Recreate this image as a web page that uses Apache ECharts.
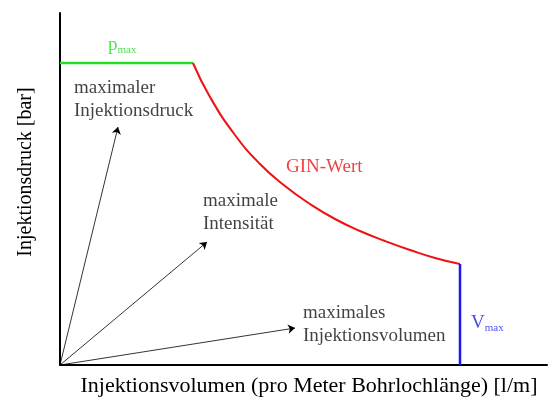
<!DOCTYPE html>
<html>
<head>
<meta charset="utf-8">
<script src="https://cdn.jsdelivr.net/npm/echarts@6/dist/echarts.min.js"></script>
<style>html,body{margin:0;padding:0;background:#fff}#c{width:549px;height:401px}</style>
</head>
<body>
<div id="c"></div>
<script>
// Volume axis (arbitrary units) and pressure axis (arbitrary units)
const pmaxLine = [[0, 302], [133, 302]];
const ginCurve = [[133, 302], [150, 268], [175, 230], [200, 201], [225, 179], [250, 161],
                  [275, 146], [300, 134], [325, 124], [350, 115], [375, 107], [400, 101]];
const vmaxLine = [[400, 101], [400, 0]];
const arrowTips = [[58, 238], [147, 123], [235, 37]];
const xTitle = 'Injektionsvolumen (pro Meter Bohrlochlänge) [l/m]';
const yTitle = 'Injektionsdruck [bar]';

const serif = '"Liberation Serif", "Times New Roman", serif';
const chart = echarts.init(document.getElementById('c'), null, {renderer: 'canvas'});

function note(x, y, text, color, rich) {
  return {value: [x, y], label: {show: true, position: 'right', distance: 0, formatter: text,
    color: color, fontFamily: serif, fontSize: 19, lineHeight: 23, rich: rich || {}}};
}
const subRich = (c) => ({
  b: {fontFamily: serif, fontSize: 19, color: c},
  s: {fontFamily: serif, fontSize: 11, color: c, padding: [10, 0, 0, 0]}
});

chart.setOption({
  animation: false,
  grid: {left: 60, right: 2, top: 13, bottom: 36},
  xAxis: {type: 'value', min: 0, max: 487,
    axisLine: {show: true, lineStyle: {color: '#000', width: 2}}, axisTick: {show: false},
    axisLabel: {show: false}, splitLine: {show: false}},
  yAxis: {type: 'value', min: 0, max: 352,
    axisLine: {show: true, lineStyle: {color: '#000', width: 2}}, axisTick: {show: false},
    axisLabel: {show: false}, splitLine: {show: false}},
  graphic: [
    {type: 'text', x: 309, y: 386,
      style: {text: xTitle, fontFamily: serif, fontSize: 22, fill: '#000', align: 'center', verticalAlign: 'middle'}},
    {type: 'text', x: 26, y: 172, rotation: Math.PI / 2,
      style: {text: yTitle, fontFamily: serif, fontSize: 20, fill: '#000', align: 'center', verticalAlign: 'middle'}}
  ],
  series: [
    {type: 'line', data: pmaxLine, symbol: 'none', lineStyle: {color: '#22dd22', width: 2.5}},
    {type: 'line', data: ginCurve, symbol: 'none', smooth: true, lineStyle: {color: '#ee1111', width: 2}},
    {type: 'line', data: vmaxLine, symbol: 'none', lineStyle: {color: '#1a1aee', width: 2.5}},
    {type: 'lines', coordinateSystem: 'cartesian2d', symbol: ['none', 'arrow'], symbolSize: [0, 7],
      lineStyle: {color: '#000', width: 0.8, opacity: 1},
      data: arrowTips.map(t => ({coords: [[0, 0], t]}))},
    {type: 'scatter', symbolSize: 0, silent: true, data: [
      note(14, 265, 'maximaler\nInjektionsdruck', '#111'),
      note(143, 152, 'maximale\nIntensität', '#111'),
      note(243, 40, 'maximales\nInjektionsvolumen', '#111'),
      note(226, 198, 'GIN-Wert', '#ee1111'),
      note(48, 320, '{b|p}{s|max}', '#22dd22', subRich('#22dd22')),
      note(411, 42, '{b|V}{s|max}', '#1a1aee', subRich('#1a1aee'))
    ]}
  ]
});
</script>
</body>
</html>
